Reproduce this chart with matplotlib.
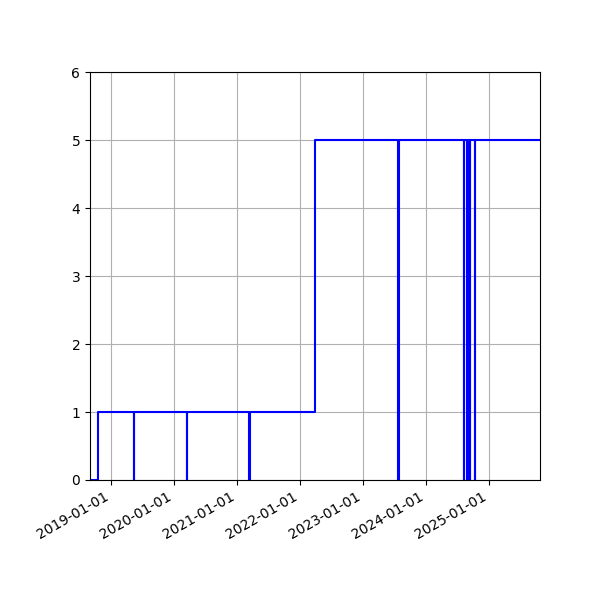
import matplotlib
matplotlib.use("Agg")
import matplotlib.pyplot as plt
import matplotlib.dates as mdates
import numpy as np

# step series: value holds from each date until the next one
dates = [
    "2018-09-01", "2018-10-15",
    "2019-05-12", "2019-05-14",
    "2020-03-15", "2020-03-17",
    "2021-03-13", "2021-03-15",
    "2022-03-27",
    "2023-07-24", "2023-07-26",
    "2024-08-08", "2024-08-10",
    "2024-08-27", "2024-08-29",
    "2024-09-12", "2024-09-14",
    "2024-10-11", "2024-10-13",
    "2025-10-22",
]
values = [0, 1, 0, 1, 0, 1, 0, 1, 5, 0, 5, 0, 5, 0, 5, 0, 5, 0, 5, 5]

x = np.array(dates, dtype="datetime64[D]")

fig, ax = plt.subplots(figsize=(6, 6), dpi=100)
ax.step(x, values, where="post", color="b")
ax.set_ylim(0, 6)
ax.set_xlim(x[0], x[-1])
ax.xaxis.set_major_locator(mdates.YearLocator())
ax.xaxis.set_major_formatter(mdates.DateFormatter("%Y-%m-%d"))
ax.grid(True)
fig.autofmt_xdate()
fig.subplots_adjust(left=0.15, right=0.9, top=0.88, bottom=0.2)
fig.savefig("out.png", dpi=100)
